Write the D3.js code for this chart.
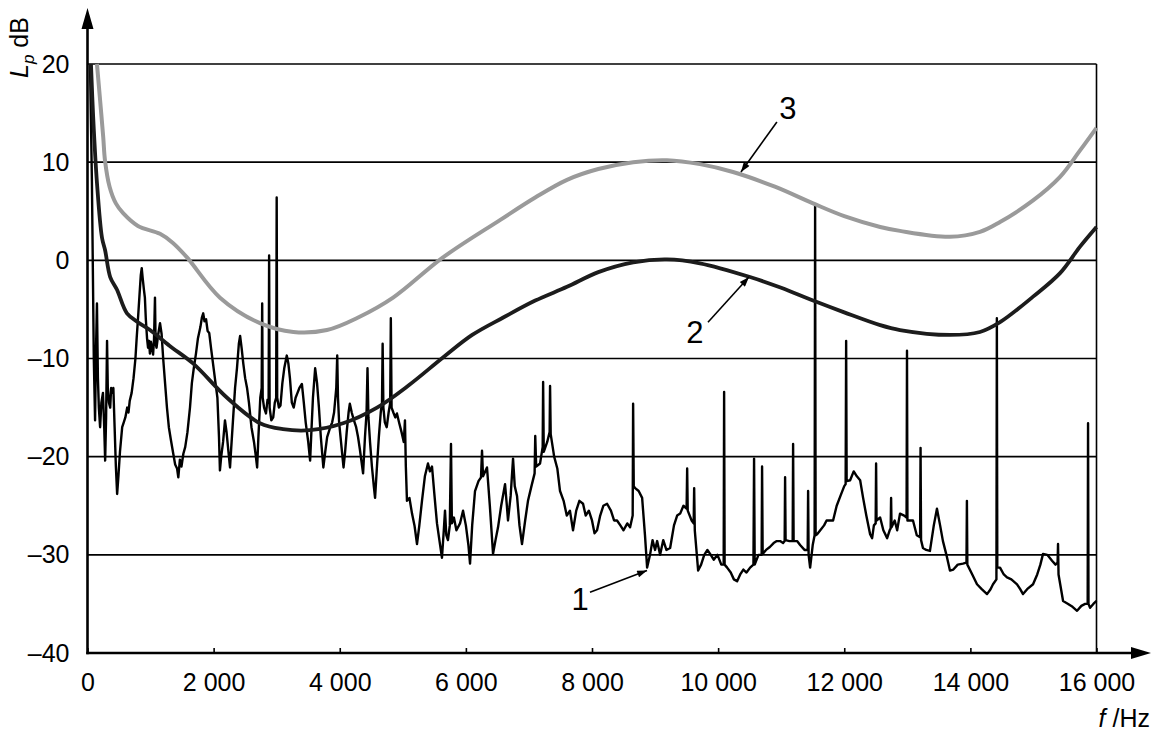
<!DOCTYPE html>
<html>
<head>
<meta charset="utf-8">
<script src="https://cdn.jsdelivr.net/npm/d3@7"></script>
<style>
  body { margin: 0; background: #fff; }
  svg text { font-family: "Liberation Sans", Arial, sans-serif; }
</style>
</head>
<body>
<div id="chart"></div>
<script>
// tick values
var xTicks = [0, 2000, 4000, 6000, 8000, 10000, 12000, 14000, 16000];
var yTicks = [-40, -30, -20, -10, 0, 10, 20];

// curve 1: measured spectrum [f Hz, Lp dB]
var spectrum = [
  [40,20],[70,8],[100,-10],[120,-16.3],[135,-9],[150,-4.4],[165,-12],[180,-15],[200,-17],[220,-14.5],[245,-13.5],[265,-17],[280,-20.4],[295,-16],[310,-8.2],[322,-13],[340,-14.5],[360,-15],[375,-13],[395,-13.5],[410,-13],[430,-17],[450,-21],[470,-23.8],[490,-22],[515,-19.5],[550,-17],[575,-16.5],[600,-16],[630,-15],[650,-15.5],[670,-14.3],[700,-13.5],[730,-12],[760,-10],[780,-7.9],[800,-6],[825,-3.5],[845,-1.5],[860,-0.8],[875,-1.8],[895,-3],[910,-3.8],[925,-6],[945,-8],[960,-8.9],[975,-8.2],[990,-9.5],[1005,-8.3],[1020,-8.8],[1040,-9.6],[1055,-8],[1070,-3.8],[1080,-8.5],[1095,-8.9],[1120,-7.6],[1150,-6.4],[1175,-7.5],[1200,-10],[1230,-12.5],[1260,-15],[1290,-17],[1320,-18.2],[1360,-19.7],[1390,-20.8],[1420,-21.2],[1440,-22.1],[1465,-20.3],[1490,-21],[1520,-19.7],[1550,-19],[1585,-17.5],[1625,-15],[1655,-12.5],[1685,-11],[1720,-9.5],[1750,-8],[1790,-6.8],[1815,-5.8],[1835,-5.4],[1855,-6.2],[1880,-6],[1905,-7.2],[1930,-7.4],[1960,-9],[1990,-10.5],[2030,-12.5],[2060,-14],[2085,-18],[2100,-21.4],[2120,-20],[2150,-18.5],[2180,-16.3],[2205,-17.5],[2235,-19.5],[2260,-21.1],[2280,-19],[2310,-16],[2340,-13],[2370,-11],[2400,-8.5],[2420,-7.7],[2445,-9],[2470,-10.5],[2500,-12],[2530,-13],[2560,-14.5],[2600,-17],[2640,-18.5],[2670,-20],[2690,-21.1],[2710,-18],[2740,-14],[2762,-13],[2770,-4.4],[2778,-14],[2800,-15],[2830,-15.6],[2855,-14.2],[2872,-14.5],[2880,0.5],[2888,-15],[2915,-16.3],[2945,-16],[2970,-14.5],[2992,-14],[3000,6.4],[3008,-14],[3035,-15],[3060,-14.8],[3090,-12.5],[3120,-11],[3160,-9.7],[3185,-10.5],[3210,-12],[3240,-14.5],[3270,-15],[3300,-14],[3330,-13.5],[3360,-13],[3400,-12.6],[3430,-14.5],[3460,-16.5],[3500,-18.5],[3530,-20.4],[3550,-17.5],[3575,-14],[3610,-11],[3640,-12.5],[3670,-15],[3700,-18],[3740,-21.1],[3770,-19.5],[3800,-18],[3850,-17],[3880,-16.5],[3910,-15.5],[3945,-13],[3960,-9.7],[3972,-14],[3990,-16.5],[4020,-18.5],[4060,-21.1],[4085,-19.5],[4110,-17.5],[4140,-15.5],[4160,-14.6],[4190,-15.5],[4220,-16.2],[4260,-17],[4290,-18],[4320,-19.3],[4345,-20.5],[4370,-21.7],[4400,-18],[4425,-15.5],[4440,-11],[4455,-16],[4480,-18.5],[4510,-21],[4540,-23],[4560,-24.2],[4590,-21],[4620,-18],[4650,-15.5],[4670,-14.5],[4680,-8.5],[4692,-15],[4715,-16.5],[4745,-17],[4775,-15.5],[4800,-14.5],[4810,-5.9],[4822,-15],[4850,-15.5],[4880,-16],[4907,-15.6],[4940,-16.5],[4980,-17.5],[5015,-18.5],[5034,-16.3],[5048,-21],[5066,-24.5],[5105,-24.2],[5146,-25.8],[5185,-27],[5225,-28.9],[5262,-27],[5304,-24.5],[5350,-22],[5399,-20.7],[5430,-21.5],[5463,-21],[5500,-23.8],[5542,-26.8],[5580,-28.5],[5621,-30.3],[5650,-27.5],[5669,-25.5],[5690,-28],[5716,-28.5],[5745,-27],[5764,-18.7],[5778,-26.8],[5810,-26.2],[5850,-27.5],[5907,-26.8],[5955,-25.5],[6000,-27],[6040,-29],[6066,-30.9],[6100,-27],[6145,-23.5],[6200,-22.5],[6240,-22.1],[6256,-19.4],[6272,-22],[6335,-21.1],[6380,-25],[6431,-29.9],[6470,-28.5],[6510,-27.2],[6560,-25],[6621,-22.8],[6650,-25],[6668,-26.5],[6710,-24],[6748,-20.2],[6775,-23],[6811,-24],[6850,-27],[6890,-28.9],[6940,-26.5],[6985,-24.5],[7040,-23],[7090,-21.7],[7100,-17.9],[7115,-21],[7176,-20.7],[7218,-19],[7225,-12.4],[7235,-19.5],[7290,-18.5],[7328,-17.5],[7335,-12.8],[7345,-17.7],[7400,-20],[7450,-21.2],[7493,-23.5],[7550,-24.5],[7600,-26],[7650,-25.5],[7699,-27.5],[7750,-25.5],[7800,-24.5],[7858,-24.8],[7900,-26],[7950,-25.5],[8000,-26.5],[8040,-27.8],[8080,-27.5],[8130,-26],[8180,-25],[8239,-24.8],[8300,-25.5],[8350,-26.5],[8397,-26.5],[8450,-27],[8500,-27.5],[8560,-26.8],[8604,-27.2],[8645,-26],[8652,-14.6],[8662,-23],[8684,-23.2],[8740,-23.5],[8795,-24.2],[8840,-28],[8874,-31.3],[8920,-30],[8960,-28.5],[9000,-29.5],[9033,-28.6],[9080,-30],[9130,-28.5],[9180,-29.5],[9239,-29.3],[9300,-27],[9350,-26],[9398,-25.8],[9450,-25],[9500,-25.3],[9509,-21.2],[9518,-25.5],[9580,-26.5],[9612,-26.8],[9620,-23.2],[9630,-27.5],[9683,-31.6],[9730,-31],[9780,-30],[9830,-29.5],[9873,-29.9],[9930,-30.5],[9990,-30],[10050,-31],[10088,-31],[10095,-13.4],[10103,-31],[10143,-31.3],[10200,-31.8],[10250,-32.5],[10301,-32.7],[10350,-32],[10400,-31.5],[10450,-31.8],[10507,-31.3],[10560,-31],[10570,-20.2],[10580,-31],[10640,-30],[10690,-30],[10697,-21],[10706,-29.9],[10760,-29.5],[10820,-29.2],[10880,-28.8],[10930,-28.6],[10983,-28.6],[11030,-28.8],[11055,-28.6],[11062,-22.1],[11070,-28.5],[11130,-28.6],[11182,-28.6],[11189,-18.7],[11197,-28.6],[11252,-28.6],[11300,-29],[11370,-29.5],[11420,-29.5],[11427,-23.5],[11435,-30],[11459,-31.3],[11500,-29],[11530,-28],[11538,5.6],[11546,-28],[11570,-27.9],[11620,-27.5],[11680,-27],[11720,-26.5],[11770,-26.5],[11823,-26.5],[11880,-25],[11940,-24],[12000,-23],[12022,-22.8],[12030,-8.2],[12038,-22.5],[12093,-22.4],[12150,-21.5],[12200,-22],[12252,-22.4],[12299,-24.2],[12350,-26],[12410,-27.9],[12442,-28.3],[12470,-27],[12498,-26.8],[12505,-20.7],[12512,-26.5],[12569,-26.2],[12620,-27.5],[12680,-28.3],[12720,-27.5],[12736,-27.3],[12743,-24.2],[12750,-27.2],[12800,-26.5],[12839,-27.5],[12884,-25.8],[12950,-26],[12988,-26.2],[12995,-9.2],[13002,-26.5],[13050,-26.5],[13090,-26.5],[13150,-28],[13203,-28.2],[13210,-19.1],[13218,-28.5],[13248,-29.3],[13300,-29.5],[13359,-29.6],[13420,-27],[13470,-25.3],[13520,-27],[13565,-28.6],[13620,-30],[13676,-31.6],[13730,-31.5],[13800,-31],[13882,-30.9],[13938,-30.8],[13945,-24.5],[13952,-31],[14030,-32],[14105,-33],[14180,-33.5],[14264,-34],[14320,-33.5],[14359,-33],[14413,-32.5],[14420,-5.9],[14427,-31.3],[14470,-31.3],[14530,-32],[14581,-32.3],[14650,-32.5],[14740,-33],[14790,-33.5],[14835,-34],[14900,-33.5],[14994,-33],[15060,-32],[15110,-31],[15152,-29.9],[15220,-30],[15295,-30.6],[15350,-31],[15383,-30.8],[15390,-28.9],[15398,-32],[15470,-34.7],[15550,-35],[15620,-35.3],[15692,-35.7],[15760,-35.2],[15820,-35],[15860,-35],[15866,-16.6],[15873,-35],[15898,-35.4],[15950,-35],[16000,-34.7]
];

// curve 2 (dark)
var curve2 = [
  [55,20],[90,14.6],[150,7.9],[230,2.3],[280,1],[360,-1.7],[468,-3],[626,-5.4],[800,-6.3],[991,-7.1],[1300,-8.7],[1673,-10.5],[2213,-14],[2735,-16.6],[3100,-17.2],[3528,-17.3],[4052,-16.6],[4591,-15],[5100,-12.7],[5637,-9.9],[6100,-7.6],[6600,-5.8],[7100,-4.1],[7604,-2.7],[8100,-1.2],[8654,-0.2],[9188,0.1],[9712,-0.3],[10505,-1.7],[11000,-2.8],[11505,-4.1],[12000,-5.3],[12570,-6.6],[12884,-7.1],[13676,-7.6],[14152,-7.3],[14470,-6.3],[14994,-3.7],[15422,-1.3],[15739,1.4],[16000,3.4]
];

// curve 3 (grey)
var curve3 = [
  [150,20],[200,16.3],[250,12.5],[277,10.2],[350,7.5],[450,5.8],[565,4.8],[800,3.5],[1150,2.7],[1350,1.8],[1578,0.3],[2101,-3.8],[2735,-6.4],[3264,-7.3],[3797,-7.1],[4300,-5.8],[4846,-3.8],[5637,0.3],[6540,4.1],[7100,6.4],[7604,8.2],[8100,9.3],[8654,10],[9188,10.2],[9712,9.8],[10236,9],[10900,7.5],[11505,5.8],[12000,4.5],[12570,3.4],[12884,3.0],[13676,2.4],[14152,2.9],[14470,3.9],[14994,6.1],[15422,8.5],[15739,11.2],[16000,13.5]
];

// callouts: label position, leader start, arrow tip  [f, dB]
var callouts = [
  { label: "3", at: [11108, 14.4], from: [10932, 14.1], to: [10362, 9.0] },
  { label: "2", at: [9633, -8.4], from: [9839, -6.3], to: [10489, -1.7] },
  { label: "1", at: [7810, -35.6], from: [7968, -33.8], to: [8872, -31.6] }
];

var W = 1162, H = 734;
var x = d3.scaleLinear().domain([0, 16000]).range([87.5, 1096.5]);
var y = d3.scaleLinear().domain([-40, 20]).range([653, 64]);

var svg = d3.select("#chart").append("svg")
  .attr("width", W).attr("height", H);

svg.append("defs").append("marker")
  .attr("id", "arr")
  .attr("viewBox", "0 0 14 10")
  .attr("refX", 14).attr("refY", 5)
  .attr("markerWidth", 14).attr("markerHeight", 7)
  .attr("markerUnits", "userSpaceOnUse")
  .attr("orient", "auto")
  .append("path").attr("d", "M0,0 L14,5 L0,10 z").attr("fill", "#000");

// grid lines
svg.append("g").selectAll("line")
  .data(yTicks.filter(function(d) { return d > -40; }))
  .enter().append("line")
  .attr("x1", x(0)).attr("x2", x(16000))
  .attr("y1", function(d) { return y(d); })
  .attr("y2", function(d) { return y(d); })
  .attr("stroke", "#000").attr("stroke-width", 1.6);

// right border
svg.append("line")
  .attr("x1", x(16000)).attr("x2", x(16000))
  .attr("y1", y(20)).attr("y2", y(-40))
  .attr("stroke", "#000").attr("stroke-width", 1.6);

var line = d3.line()
  .x(function(d) { return x(d[0]); })
  .y(function(d) { return y(d[1]); });

var smooth = d3.line()
  .x(function(d) { return x(d[0]); })
  .y(function(d) { return y(d[1]); })
  .curve(d3.curveCatmullRom.alpha(0.5));

svg.append("path").datum(spectrum)
  .attr("d", line)
  .attr("fill", "none").attr("stroke", "#000")
  .attr("stroke-width", 2.4).attr("stroke-linejoin", "round");

svg.append("path").datum(curve2)
  .attr("d", smooth)
  .attr("fill", "none").attr("stroke", "#1c1c1c")
  .attr("stroke-width", 3.8);

svg.append("path").datum(curve3)
  .attr("d", smooth)
  .attr("fill", "none").attr("stroke", "#9a9a9a")
  .attr("stroke-width", 4);

// axes
var fmtX = function(d) { return d3.format(",")(d).replace(/,/g, " "); };
var fmtY = function(d) { return d < 0 ? "\u2013" + Math.abs(d) : String(d); };

var gx = svg.append("g")
  .attr("transform", "translate(0," + y(-40) + ")")
  .call(d3.axisBottom(x).tickValues(xTicks).tickFormat(fmtX)
    .tickSizeInner(-5).tickSizeOuter(0).tickPadding(20));
gx.select(".domain").remove();
gx.selectAll(".tick line").attr("stroke", "#000").attr("stroke-width", 1.6);
gx.selectAll("text").attr("font-size", 25).attr("fill", "#000")
  .attr("font-family", "'Liberation Sans', Arial, sans-serif");

var gy = svg.append("g")
  .attr("transform", "translate(" + x(0) + ",0)")
  .call(d3.axisLeft(y).tickValues(yTicks).tickFormat(fmtY)
    .tickSize(0).tickPadding(18));
gy.select(".domain").remove();
gy.selectAll("text").attr("font-size", 25).attr("fill", "#000")
  .attr("font-family", "'Liberation Sans', Arial, sans-serif");

// axis lines with arrows
svg.append("line")
  .attr("x1", x(0)).attr("x2", x(0))
  .attr("y1", y(-40) + 1.2).attr("y2", 26)
  .attr("stroke", "#000").attr("stroke-width", 2.6);
svg.append("path")
  .attr("d", "M" + x(0) + ",8 L" + (x(0) - 6) + ",29 L" + (x(0) + 6) + ",29 Z")
  .attr("fill", "#000");

svg.append("line")
  .attr("x1", x(0) - 1.2).attr("x2", 1134)
  .attr("y1", y(-40)).attr("y2", y(-40))
  .attr("stroke", "#000").attr("stroke-width", 2.6);
svg.append("path")
  .attr("d", "M1151," + y(-40) + " L1131," + (y(-40) - 6) + " L1131," + (y(-40) + 6) + " Z")
  .attr("fill", "#000");

// axis titles
var yt = svg.append("text")
  .attr("transform", "translate(28,78) rotate(-90)")
  .attr("font-size", 25).attr("fill", "#000");
yt.append("tspan").attr("font-style", "italic").text("L");
yt.append("tspan").attr("font-style", "italic").attr("font-size", 17).attr("dy", 6).text("p");
yt.append("tspan").attr("dy", -6).text(" dB");

var xt = svg.append("text")
  .attr("x", 1150).attr("y", 727)
  .attr("text-anchor", "end")
  .attr("font-size", 25).attr("fill", "#000");
xt.append("tspan").attr("font-style", "italic").text("f");
xt.append("tspan").text(" /Hz");

// callouts
var co = svg.append("g").selectAll("g").data(callouts).enter().append("g");
co.append("line")
  .attr("x1", function(d) { return x(d.from[0]); })
  .attr("y1", function(d) { return y(d.from[1]); })
  .attr("x2", function(d) { return x(d.to[0]); })
  .attr("y2", function(d) { return y(d.to[1]); })
  .attr("stroke", "#000").attr("stroke-width", 1.6)
  .attr("marker-end", "url(#arr)");
co.append("text")
  .attr("x", function(d) { return x(d.at[0]); })
  .attr("y", function(d) { return y(d.at[1]); })
  .attr("text-anchor", "middle")
  .attr("font-size", 31).attr("fill", "#000")
  .text(function(d) { return d.label; });
</script>
</body>
</html>
